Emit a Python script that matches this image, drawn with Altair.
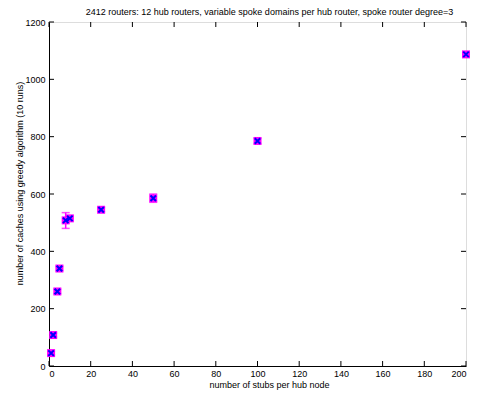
import altair as alt
import pandas as pd

stubs = [1, 2, 4, 5, 8, 10, 25, 50, 100, 200]
caches = [45, 108, 260, 340, 508, 515, 545, 585, 785, 1087]
low = [39, 101, 253, 333, 480, 506, 538, 571, 776, 1080]
high = [51, 115, 267, 347, 535, 524, 552, 600, 794, 1094]

x_ticks = [0, 20, 40, 60, 80, 100, 120, 140, 160, 180, 200]
y_ticks = [0, 200, 400, 600, 800, 1000, 1200]

df = pd.DataFrame({"x": stubs, "y": caches, "lo": low, "hi": high})
dfx = pd.DataFrame({"t": x_ticks})
dfy = pd.DataFrame({"t": y_ticks})

FONT = "Liberation Sans"
xs = alt.Scale(domain=[0, 200], nice=False, zero=False)
ys = alt.Scale(domain=[0, 1200], nice=False, zero=False)

xaxis = alt.Axis(values=x_ticks, format="d", title="number of stubs per hub node", titleX=220,
                 titleFontSize=9, titleFont=FONT, titleFontWeight="normal", titlePadding=2,
                 labelFontSize=9, labelFont=FONT, labelColor="black", titleColor="black",
                 ticks=False, labelPadding=3, grid=False, domainColor="black")
yaxis = alt.Axis(values=y_ticks, format="d", title="number of caches using greedy algorithm (10 runs)",
                 titleY=161, titleFontSize=9, titleFont=FONT, titleFontWeight="normal",
                 titlePadding=0, labelFontSize=9, labelFont=FONT, labelColor="black",
                 titleColor="black", ticks=False, labelPadding=4, grid=False, domainColor="black")

base = alt.Chart(df)

bars = base.mark_rule(color="#ff00ff", strokeWidth=1.5).encode(
    x=alt.X("x:Q", scale=xs, axis=xaxis),
    y=alt.Y("lo:Q", scale=ys, axis=yaxis),
    y2="hi:Q",
)
cap_lo = base.mark_tick(orient="horizontal", color="#ff00ff", size=8, thickness=1.5).encode(
    x=alt.X("x:Q", scale=xs), y=alt.Y("lo:Q", scale=ys))
cap_hi = base.mark_tick(orient="horizontal", color="#ff00ff", size=8, thickness=1.5).encode(
    x=alt.X("x:Q", scale=xs), y=alt.Y("hi:Q", scale=ys))

XSHAPE = "M-1,-1L1,1M-1,1L1,-1"
mag = base.mark_point(shape="square", filled=True, color="#ff00ff", size=64, opacity=1).encode(
    x=alt.X("x:Q", scale=xs), y=alt.Y("y:Q", scale=ys))
blue = base.mark_point(shape=XSHAPE, filled=False, stroke="#0000ff", strokeWidth=2,
                       size=30, opacity=1).encode(
    x=alt.X("x:Q", scale=xs), y=alt.Y("y:Q", scale=ys))

tk = dict(color="black", strokeWidth=1)
xb = alt.Chart(dfx).mark_rule(**tk).encode(x=alt.X("t:Q", scale=xs), y=alt.value(344), y2=alt.value(339))
xt = alt.Chart(dfx).mark_rule(**tk).encode(x=alt.X("t:Q", scale=xs), y=alt.value(0), y2=alt.value(5))
yl = alt.Chart(dfy).mark_rule(**tk).encode(y=alt.Y("t:Q", scale=ys), x=alt.value(0), x2=alt.value(5))
yr = alt.Chart(dfy).mark_rule(**tk).encode(y=alt.Y("t:Q", scale=ys), x=alt.value(417), x2=alt.value(412))

chart = alt.layer(bars, cap_lo, cap_hi, mag, blue, xb, xt, yl, yr).properties(
    width=417, height=344,
    title=alt.TitleParams("2412 routers: 12 hub routers, variable spoke domains per hub router, spoke router degree=3",
                          fontSize=9, font=FONT, fontWeight="normal", color="black",
                          anchor="middle", dx=12, offset=1),
    autosize=alt.AutoSizeParams(type="none"),
    padding={"left": 41, "top": 14, "right": 5, "bottom": 28},
).configure_view(stroke="black", strokeWidth=1).configure(background="white")

chart.save("out.html", embed_options={"renderer": "svg", "actions": False})
